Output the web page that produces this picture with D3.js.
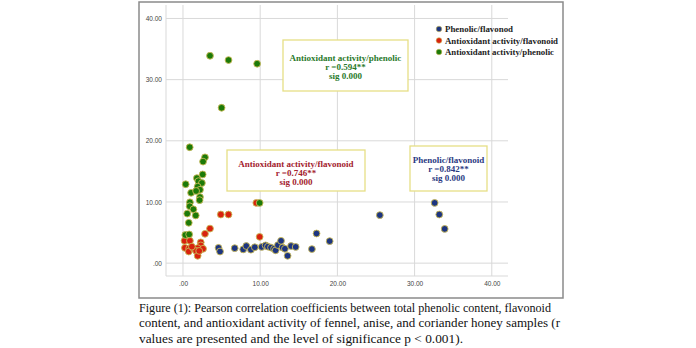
<!DOCTYPE html>
<html>
<head>
<meta charset="utf-8">
<script src="https://cdn.jsdelivr.net/npm/d3@7/dist/d3.min.js"></script>
<style>
  html, body { margin: 0; padding: 0; background: #fff; }
  svg { display: block; }
</style>
</head>
<body>
<div id="chart"></div>
<script>
// Scatter data: [x, y] pairs per correlation series
const phenolicFlavonoid = [
  [4.6, 2.5], [4.8, 1.9], [6.7, 2.45], [7.8, 2.25], [8.2, 2.8], [8.8, 2.2],
  [9.3, 2.6], [10.2, 2.65], [10.7, 2.9], [11.0, 2.7], [11.4, 2.55], [11.8, 2.35],
  [12.0, 2.1], [12.3, 2.95], [12.7, 3.65], [12.9, 2.55], [13.2, 2.35], [13.55, 1.2],
  [14.0, 2.8], [14.6, 2.65], [16.7, 2.3], [17.3, 4.85], [19.0, 3.6], [25.5, 7.85],
  [32.6, 9.85], [33.2, 7.95], [33.9, 5.6]
];
const antioxidantFlavonoid = [
  [9.5, 9.85], [4.9, 7.95], [5.9, 7.95], [3.5, 5.65], [2.85, 4.8], [9.93, 4.3],
  [0.2, 3.65], [0.9, 3.65], [2.3, 3.4], [2.3, 2.9], [0.25, 2.5], [0.8, 2.4],
  [0.75, 1.9], [1.4, 2.35], [1.9, 2.45], [2.6, 2.35], [1.7, 2.0], [1.9, 1.2],
  [1.15, 2.7], [2.1, 2.0]
];
const antioxidantPhenolic = [
  [3.5, 33.9], [5.9, 33.2], [9.6, 32.6], [5.0, 25.4], [0.87, 18.95], [2.85, 17.3],
  [2.6, 16.6], [0.35, 12.9], [1.05, 11.5], [1.8, 13.9], [2.0, 13.4], [2.55, 14.5],
  [2.45, 13.1], [1.9, 12.5], [2.2, 12.0], [1.7, 11.8], [2.2, 10.8], [2.15, 10.3],
  [0.9, 9.95], [0.87, 9.3], [1.35, 8.8], [0.55, 8.1], [1.65, 7.8], [0.75, 6.6],
  [0.3, 4.6], [0.8, 4.7], [9.93, 9.85]
];

const seriesNames = ["Phenolic/flavonod", "Antioxidant activity/flavonoid", "Antioxidant activity/phenolic"];
const seriesColors = ["#1d3580", "#d8220e", "#1c7a08"];
const annotations = [
  { lines: ["Antioxidant activity/phenolic", "r =0.594**", "sig 0.000"], color: "#2b7a2b" },
  { lines: ["Antioxidant activity/flavonoid", "r =0.746**", "sig 0.000"], color: "#a3222e" },
  { lines: ["Phenolic/flavonoid", "r =0.842**", "sig 0.000"], color: "#2b3a82" }
];
const tickValues = [0, 10, 20, 30, 40];
const tickLabels = [".00", "10.00", "20.00", "30.00", "40.00"];
const captionLines = [
  "Figure (1): Pearson correlation coefficients between total phenolic content, flavonoid",
  "content, and antioxidant activity of fennel, anise, and coriander honey samples (r",
  "values are presented and the level of significance p < 0.001)."
];

const W = 696, H = 348;
const svg = d3.select("#chart").append("svg").attr("width", W).attr("height", H);

// outer chart frame
svg.append("rect").attr("x", 139).attr("y", 2).attr("width", 424).attr("height", 296)
  .attr("fill", "#fff").attr("stroke", "#8a8a8a").attr("stroke-width", 1.5);

const plot = { left: 166, right: 508, top: 5, bottom: 276 };
const x = d3.scaleLinear().domain([-2.2, 42.1]).range([plot.left, plot.right]);
const y = d3.scaleLinear().domain([-2.1, 42.2]).range([plot.bottom, plot.top]);

// grid
const grid = svg.append("g").attr("stroke", "#d9d9d9").attr("stroke-width", 1);
tickValues.forEach(v => {
  grid.append("line").attr("x1", x(v)).attr("x2", x(v)).attr("y1", plot.top).attr("y2", plot.bottom);
  grid.append("line").attr("x1", plot.left).attr("x2", plot.right).attr("y1", y(v)).attr("y2", y(v));
});
grid.append("line").attr("x1", plot.left).attr("x2", plot.left).attr("y1", plot.top).attr("y2", plot.bottom);
grid.append("line").attr("x1", plot.left).attr("x2", plot.right).attr("y1", plot.bottom).attr("y2", plot.bottom);

// axes with text-only ticks
const fmt = d => tickLabels[tickValues.indexOf(d)];
const xAxis = svg.append("g").attr("transform", `translate(0,${plot.bottom})`)
  .call(d3.axisBottom(x).tickValues(tickValues).tickFormat(fmt).tickSize(0).tickPadding(5));
const yAxis = svg.append("g").attr("transform", `translate(${plot.left},0)`)
  .call(d3.axisLeft(y).tickValues(tickValues).tickFormat(fmt).tickSize(0).tickPadding(4));
[xAxis, yAxis].forEach(a => {
  a.select(".domain").remove();
  a.selectAll("text").attr("font-family", "Liberation Sans, Arial, sans-serif")
    .attr("font-size", 6.5).attr("fill", "#444");
});

// annotation boxes
const boxes = [
  { x: 283, y: 40, w: 125, h: 51, ty: [58, 67, 76] },
  { x: 227, y: 150, w: 138, h: 41, ty: [164, 173, 182] },
  { x: 410, y: 146, w: 77, h: 45, ty: [160, 169, 178] }
];
boxes.forEach((b, i) => {
  const a = annotations[i];
  svg.append("rect").attr("x", b.x).attr("y", b.y).attr("width", b.w).attr("height", b.h)
    .attr("fill", "#fff").attr("stroke", "#e6df86").attr("stroke-width", 1.3);
  a.lines.forEach((t, j) => {
    svg.append("text").attr("x", b.x + b.w / 2).attr("y", b.ty[j] + 3)
      .attr("text-anchor", "middle").attr("font-family", "Liberation Serif, Times New Roman, serif")
      .attr("font-weight", "bold").attr("font-size", 9).attr("fill", a.color).text(t);
  });
});

// points
const allSeries = [phenolicFlavonoid, antioxidantFlavonoid, antioxidantPhenolic];
allSeries.forEach((data, i) => {
  svg.append("g").selectAll("circle").data(data).join("circle")
    .attr("cx", d => x(d[0])).attr("cy", d => y(d[1])).attr("r", 3.4)
    .attr("fill", seriesColors[i]).attr("stroke", "#c9b956").attr("stroke-width", 0.9);
});

// legend
const legendW = [68, 113, 109];
const legend = svg.append("g");
seriesNames.forEach((n, i) => {
  const ly = 29 + i * 11.5;
  legend.append("circle").attr("cx", 439).attr("cy", ly).attr("r", 2.8)
    .attr("fill", seriesColors[i]).attr("stroke", "#c9b956").attr("stroke-width", 0.6);
  legend.append("text").attr("x", 445).attr("y", ly + 3)
    .attr("font-family", "Liberation Serif, Times New Roman, serif").attr("font-weight", "bold")
    .attr("font-size", 9.2).attr("fill", "#222")
    .attr("textLength", legendW[i]).attr("lengthAdjust", "spacingAndGlyphs").text(n);
});

// caption
const capW = [412, 421, 324];
captionLines.forEach((t, i) => {
  svg.append("text").attr("x", 139).attr("y", 312 + i * 15.3)
    .attr("font-family", "Liberation Serif, Times New Roman, serif")
    .attr("font-size", 13).attr("fill", "#111")
    .attr("textLength", capW[i]).attr("lengthAdjust", "spacingAndGlyphs").text(t);
});
</script>
</body>
</html>
